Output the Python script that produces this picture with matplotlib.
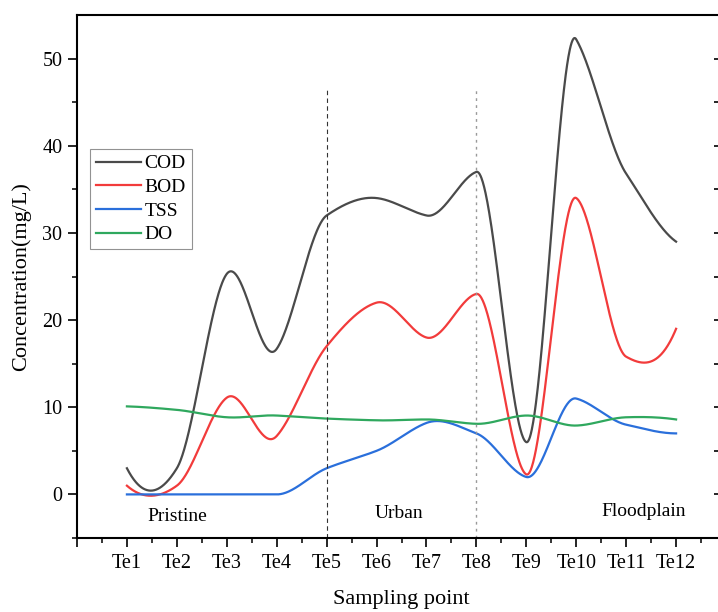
import numpy as np
import matplotlib
matplotlib.use("Agg")
import matplotlib.pyplot as plt
from matplotlib.ticker import MultipleLocator, FixedLocator, NullFormatter

plt.rcParams['font.family'] = ['Liberation Serif', 'DejaVu Serif']

sites = ["Te1", "Te2", "Te3", "Te4", "Te5", "Te6", "Te7", "Te8", "Te9", "Te10", "Te11", "Te12"]
cod = [3, 3, 25.3, 16.7, 32, 34, 32, 37, 6, 52.2, 36.8, 29]
bod = [1, 1, 11.1, 6.7, 17, 22, 18, 23, 2.3, 34, 15.8, 19]
tss = [0, 0, 0, 0, 3, 5, 8.2, 7, 2, 11, 8, 7]
do = [10.1, 9.7, 8.85, 9.05, 8.7, 8.5, 8.6, 8.1, 9.05, 7.9, 8.85, 8.6]
zones = ["Pristine", "Urban", "Floodplain"]


def akima(x, y, xs):
    x = np.asarray(x, float); y = np.asarray(y, float)
    n = len(x)
    h = np.diff(x)
    m = np.diff(y) / h
    mm = np.empty(n + 3)
    mm[2:n + 1] = m
    mm[1] = 2 * mm[2] - mm[3]
    mm[0] = 2 * mm[1] - mm[2]
    mm[n + 1] = 2 * mm[n] - mm[n - 1]
    mm[n + 2] = 2 * mm[n + 1] - mm[n]
    t = np.empty(n)
    for i in range(n):
        m1, m2, m3, m4 = mm[i], mm[i + 1], mm[i + 2], mm[i + 3]
        w1 = abs(m4 - m3); w2 = abs(m2 - m1)
        if w1 + w2 == 0:
            t[i] = 0.5 * (m2 + m3)
        else:
            t[i] = (w1 * m2 + w2 * m3) / (w1 + w2)
    idx = np.clip(np.searchsorted(x, xs) - 1, 0, n - 2)
    hh = h[idx]
    s = (xs - x[idx]) / hh
    h00 = 2 * s ** 3 - 3 * s ** 2 + 1
    h10 = s ** 3 - 2 * s ** 2 + s
    h01 = -2 * s ** 3 + 3 * s ** 2
    h11 = s ** 3 - s ** 2
    return h00 * y[idx] + h10 * hh * t[idx] + h01 * y[idx + 1] + h11 * hh * t[idx + 1]


fig = plt.figure(figsize=(7.18, 6.12), dpi=100)
ax = fig.add_axes([77 / 718, 1 - 538 / 612, (726 - 77) / 718, (538 - 15) / 612])

xpos = np.arange(1, len(sites) + 1)
xs = np.linspace(1, len(sites), 1200)
series = [("COD", cod, "#4a4a4a"), ("BOD", bod, "#f23b3b"),
          ("TSS", tss, "#2a6fdb"), ("DO", do, "#2fa85e")]
for name, vals, col in series:
    ax.plot(xs, akima(xpos, vals, xs), color=col, lw=1.6, label=name)

ax.plot([5, 5], [-5, 46.7], color="#333333", lw=0.8, ls=(0, (4, 3)))
ax.plot([8, 8], [-5, 46.7], color="#999999", lw=1.0, ls=(0, (2, 3)))

ax.text(2, -2.5, zones[0], ha="center", va="center", fontsize=14)
ax.text(6.45, -2.2, zones[1], ha="center", va="center", fontsize=14)
ax.text(11.35, -2.0, zones[2], ha="center", va="center", fontsize=14)

ax.set_xlim(0, 13)
ax.set_ylim(-5, 55)
ax.xaxis.set_major_locator(FixedLocator(np.arange(0, 14)))
ax.set_xticklabels([""] + sites + [""])
ax.xaxis.set_minor_locator(MultipleLocator(0.5))
ax.yaxis.set_major_locator(FixedLocator([0, 10, 20, 30, 40, 50]))
ax.yaxis.set_minor_locator(FixedLocator([-5, 5, 15, 25, 35, 45]))
ax.tick_params(axis="both", which="major", labelsize=14.5, width=1.2, length=6.5, direction="out")
ax.tick_params(axis="x", which="major", pad=5)
ax.tick_params(axis="y", which="major", pad=4)
ax.tick_params(axis="both", which="minor", width=1.1, length=3.6, direction="out")
for s in ax.spines.values():
    s.set_linewidth(1.5)

sec = ax.secondary_yaxis("right")
sec.yaxis.set_major_locator(FixedLocator([0, 10, 20, 30, 40, 50]))
sec.yaxis.set_minor_locator(FixedLocator([-5, 5, 15, 25, 35, 45]))
sec.yaxis.set_major_formatter(NullFormatter())
sec.tick_params(which="both", direction="in", length=8.6, width=1.2)
sec.spines["right"].set_linewidth(1.5)

ax.set_xlabel("Sampling point", fontsize=16, labelpad=12)
ax.set_ylabel("Concentration(mg/L)", fontsize=16, labelpad=8)

leg = ax.legend(loc="upper left", bbox_to_anchor=((90 - 77) / 649, 1 - (149 - 15) / 523),
                frameon=True, fancybox=False, edgecolor="#777777", fontsize=14,
                handlelength=2.3, handletextpad=0.2, borderpad=0.3, labelspacing=0.31,
                borderaxespad=0)
leg.get_frame().set_linewidth(0.8)

fig.savefig("out.png", dpi=100)
